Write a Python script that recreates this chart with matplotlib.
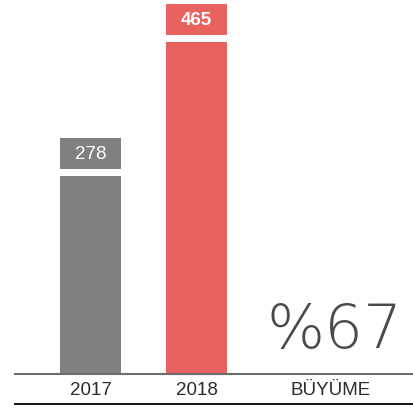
import matplotlib
matplotlib.use("Agg")
import matplotlib.pyplot as plt
from matplotlib.lines import Line2D

categories = ["2017", "2018"]
values = [278, 465]
colors = ["#808083", "#e8635f"]
growth_label = "BÜYÜME"
growth_text = "%67"

fig = plt.figure(figsize=(4.14, 4.10), dpi=100)
ax = fig.add_axes([15/414, 1-375/410, 1-15/414, 375/410])

px_per_unit = 332/465
gap = 7/px_per_unit
box_h = 31/px_per_unit
w = 0.575

xs = [0, 1]
for x, v, c in zip(xs, values, colors):
    ax.bar(x, v, width=w, color=c, linewidth=0)
    ax.bar(x, box_h, bottom=v+gap, width=w, color=c, linewidth=0)
    ax.text(x, v+gap+box_h/2, str(v), ha="center", va="center", color="white",
            fontsize=13.5, fontfamily="Liberation Sans",
            fontweight="bold" if v == max(values) else "normal")

gx = 2.27
ax.text(gx+0.03, 20, growth_text, ha="center", va="bottom", color="#4a4a4c",
        fontsize=44, fontfamily="DejaVu Sans", fontweight="light")

ax.set_xlim(-0.712, 3.052)
ax.set_ylim(0, 375/px_per_unit)
ax.set_xticks(xs + [gx])
ax.set_xticklabels(categories + [growth_label], fontsize=13.5,
                   fontfamily="Liberation Sans", color="#2b2b2b")
ax.tick_params(axis="x", length=0, pad=5)
ax.set_yticks([])
for s in ["top", "right", "left"]:
    ax.spines[s].set_visible(False)
ax.spines["bottom"].set_color("#6d6d6d")
ax.spines["bottom"].set_linewidth(1.5)

fig.add_artist(Line2D([15/414, 1], [1-405/410, 1-405/410], color="black", linewidth=1.3,
                      transform=fig.transFigure))

fig.savefig("out.png", dpi=100)
